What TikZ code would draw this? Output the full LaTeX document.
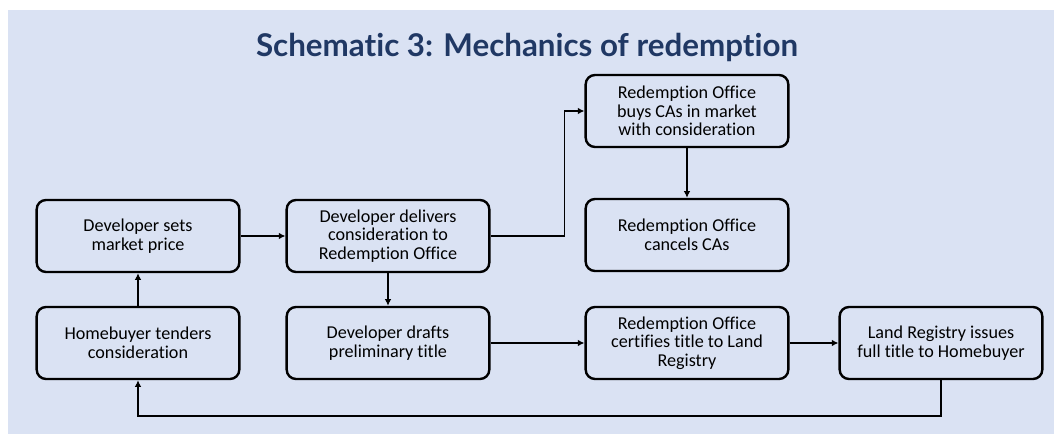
\documentclass[tikz,border=0pt]{standalone}
\usepackage{fontspec}
\setmainfont{Carlito}[Ligatures=NoCommon]
\newfontfamily\titlefont{Lato}[Ligatures=NoCommon]
\usepackage{tikz}
\usetikzlibrary{positioning,arrows.meta}
\usepackage{xcolor}
\definecolor{panelblue}{HTML}{DAE2F3}
\definecolor{titlenavy}{HTML}{203864}

\tikzset{
  stage/.style={rectangle, rounded corners=7pt, draw=black, line width=1.8pt,
    minimum width=152pt, minimum height=54pt, inner sep=2pt, align=center,
    font=\fontsize{13.6}{14}\selectfont},
  flow/.style={line width=1.1pt, -{Latex[length=5pt,width=5pt]}}
}

\begin{document}
\begin{tikzpicture}[x=0.75pt, y=-0.75pt]
\useasboundingbox (0,0) rectangle (1054,434);
\fill[panelblue] (8,10) rectangle (1054,434);
\node[font=\titlefont\bfseries\fontsize{23.5}{26}\selectfont, text=titlenavy] (title) at (527,47) {Schematic 3: Mechanics of redemption};

% left column
\node[stage] (price) at (138,236) {Developer sets\\market price};
\node[stage] (tender) at (138,343) {Homebuyer tenders\\consideration};
% middle column
\node[stage] (deliver) at (388,236) {Developer delivers\\consideration to\\Redemption Office};
\node[stage] (draft) at (388,343) {Developer drafts\\preliminary title};
% redemption office
\node[stage] (buy) at (687,111) {Redemption Office\\buys CAs in market\\with consideration};
\node[stage] (cancel) at (687,235) {Redemption Office\\cancels CAs};
\node[stage] (certify) at (687,343) {Redemption Office\\certifies title to Land\\Registry};
\node[stage] (issue) at (941,343) {Land Registry issues\\full title to Homebuyer};

\draw[flow] (tender) -- (price);
\draw[flow] (price) -- (deliver);
\draw[flow] (deliver.east) -- ++(74,0) |- (buy.west);
\draw[flow] (buy) -- (cancel);
\draw[flow] (deliver) -- (draft);
\draw[flow] (draft) -- (certify);
\draw[flow] (certify) -- (issue);
\draw[flow] (issue.south) -- ++(0,36) -| (tender.south);
\end{tikzpicture}
\end{document}
